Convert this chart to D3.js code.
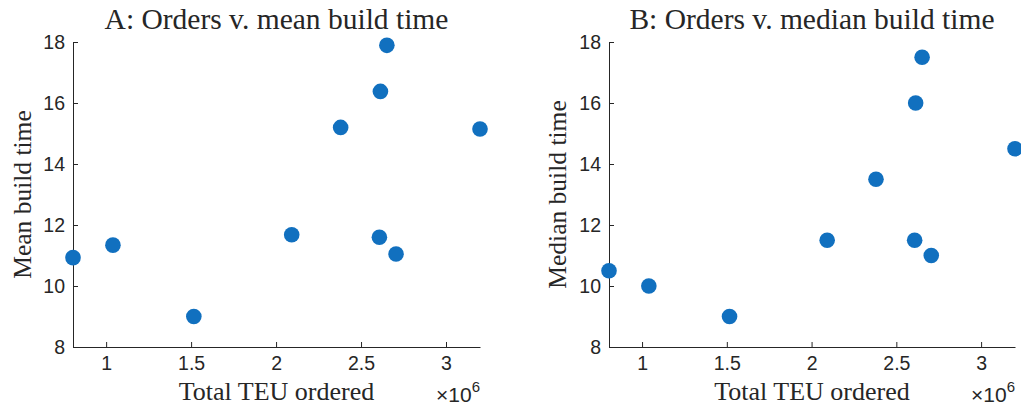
<!DOCTYPE html>
<html><head><meta charset="utf-8">
<script src="https://cdn.jsdelivr.net/npm/d3@7"></script>
<style>body{margin:0;background:#fff}svg{display:block}</style>
</head><body>
<svg id="c" width="1021" height="410"></svg>
<script>
const teuOrdered = [0.805e6, 1.04e6, 1.516e6, 2.092e6, 2.38e6, 2.614e6, 2.652e6, 2.608e6, 2.706e6, 3.2e6];
const meanBuild = [10.93, 11.34, 9.0, 11.68, 15.2, 16.38, 17.89, 11.6, 11.05, 15.15];
const medianBuild = [10.5, 10.0, 9.0, 11.5, 13.5, 16.0, 17.5, 11.5, 11.0, 14.5];
const xTicks = [1e6, 1.5e6, 2e6, 2.5e6, 3e6];
const yTicks = [8, 10, 12, 14, 16, 18];
const titles = ["A: Orders v. mean build time", "B: Orders v. median build time"];
const yLabels = ["Mean build time", "Median build time"];
const xLabel = "Total TEU ordered";

const svg = d3.select("#c");
const ink = "#262626";
const panels = [
  {left: 73, right: 480, ys: meanBuild, ylx: 22},
  {left: 609, right: 1015, ys: medianBuild, ylx: 557}
];
const plotTop = 42, plotBottom = 347;
const sans = "Liberation Sans, Arial, sans-serif";
const serif = "Liberation Serif, Times New Roman, serif";

panels.forEach((p, i) => {
  const x = d3.scaleLinear().domain(d3.extent(teuOrdered)).range([p.left, p.right]);
  const y = d3.scaleLinear().domain([8, 18]).range([plotBottom, plotTop]);
  const g = svg.append("g");

  const xa = g.append("g").attr("transform", `translate(0,${plotBottom})`)
    .call(d3.axisBottom(x).tickValues(xTicks).tickFormat(d => d3.format("~g")(d / 1e6)).tickSizeInner(-5).tickSizeOuter(0).tickPadding(9));
  const ya = g.append("g").attr("transform", `translate(${p.left},0)`)
    .call(d3.axisLeft(y).tickValues(yTicks).tickSizeInner(-5).tickSizeOuter(0).tickPadding(8));
  [xa, ya].forEach(a => {
    a.attr("font-size", null).attr("font-family", null);
    a.select(".domain").attr("stroke", ink).attr("stroke-width", 1);
    a.selectAll(".tick line").attr("stroke", ink);
    a.selectAll("text").attr("fill", ink).attr("font-family", sans).attr("font-size", 19.5);
  });
  xa.selectAll("text").attr("dy", "0.71em");

  g.append("g").selectAll("circle").data(teuOrdered).join("circle")
    .attr("cx", d => x(d)).attr("cy", (d, j) => y(p.ys[j])).attr("r", 7.8)
    .attr("fill", "#1170BF");

  g.append("text").attr("x", (p.left + p.right) / 2).attr("y", 29).attr("text-anchor", "middle")
    .attr("font-family", serif).attr("font-size", 29.5).attr("fill", ink).text(titles[i]);
  g.append("text").attr("x", (p.left + p.right) / 2).attr("y", 400).attr("text-anchor", "middle")
    .attr("font-family", serif).attr("font-size", 26).attr("fill", ink).text(xLabel);
  g.append("text").attr("transform", `translate(${p.ylx},${(plotTop + plotBottom) / 2}) rotate(-90)`)
    .attr("text-anchor", "middle").attr("dy", "0.35em")
    .attr("font-family", serif).attr("font-size", 25.5).attr("fill", ink).text(yLabels[i]);
  const m = g.append("text").attr("x", p.right).attr("y", 402).attr("text-anchor", "end")
    .attr("font-family", sans).attr("font-size", 21).attr("fill", ink);
  m.append("tspan").text("\u00D710");
  m.append("tspan").attr("dy", -10).attr("font-size", 15).text("6");
});
</script>
</body></html>
